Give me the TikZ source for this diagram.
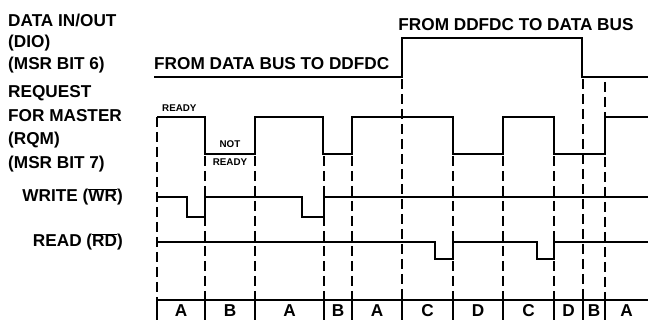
\documentclass[tikz,border=0pt]{standalone}
\usepackage{fontspec}
\setmainfont{Liberation Sans}
\usetikzlibrary{positioning}

\begin{document}
\begin{tikzpicture}[
x=1pt, y=-1pt,
sig/.style={line width=2pt, line join=miter},
guide/.style={line width=1.3pt, dash pattern=on 10pt off 5pt},
lbl/.style={font=\fontsize{17.2}{19}\selectfont\bfseries, inner sep=0pt},
small/.style={font=\fontsize{9.8}{11}\selectfont\bfseries, inner sep=0pt}
]
\useasboundingbox (0,0) rectangle (648,320);

\node[lbl, anchor=base west] (dio1) at (8,26.5) {DATA IN/OUT};
\node[lbl, anchor=base west] (dio2) at (8,48) {(DIO)};
\node[lbl, anchor=base west] (dio3) at (8,70) {(MSR BIT 6)};
\node[lbl, anchor=base west] (rqm1) at (8,98) {REQUEST};
\node[lbl, anchor=base west] (rqm2) at (8,122) {FOR MASTER};
\node[lbl, anchor=base west] (rqm3) at (8,145) {(RQM)};
\node[lbl, anchor=base west] (rqm4) at (8,169) {(MSR BIT 7)};
\node[lbl, anchor=base east] (wr) at (123,202) {WRITE ($\overline{\hbox{WR}}$)};
\node[lbl, anchor=base east] (rd) at (123,247) {READ ($\overline{\hbox{RD}}$)};

\node[lbl, anchor=base west] (tofdc) at (154,70) {FROM DATA BUS TO DDFDC};
\node[lbl, anchor=base] (tobus) at (516,31) {FROM DDFDC TO DATA BUS};
\node[small, anchor=base west] (rdy) at (162,112) {READY};
\node[small, anchor=base] (not) at (230,148) {NOT};
\node[small, anchor=base] (nrdy) at (230,166) {READY};

% DIO
\draw[sig] (154,77) -- (402,77) -- (402,38) -- (582,38) -- (582,77) -- (648,77);
% RQM
\draw[sig] (157,117) -- (205,117) -- (205,154) -- (255,154) -- (255,117) -- (323,117)
  -- (323,154) -- (352,154) -- (352,117) -- (453,117) -- (453,154) -- (503,154)
  -- (503,117) -- (554,117) -- (554,154) -- (605,154) -- (605,117) -- (648,117);
% WR
\draw[sig] (157,197) -- (187,197) -- (187,217) -- (205,217) -- (205,197) -- (302,197)
  -- (302,217) -- (324,217) -- (324,197) -- (648,197);
% RD
\draw[sig] (157,242) -- (435,242) -- (435,259) -- (453,259) -- (453,242) -- (537,242)
  -- (537,259) -- (554,259) -- (554,242) -- (648,242);

\foreach \x/\y in {157/117, 205/156, 255/156, 324/156, 352/156, 402/79, 453/156, 503/156, 554/156, 583/79, 605/82}
  \draw[guide] (\x,\y) -- (\x,300);

\draw[sig] (157,300) -- (648,300);
\foreach \x in {157,205,255,324,352,402,453,503,554,583,605}
  \draw[sig] (\x,300) -- (\x,320);

\foreach \a/\b/\t in {157/205/A, 205/255/B, 255/324/A, 324/352/B, 352/402/A, 402/453/C,
  453/503/D, 503/554/C, 554/583/D, 583/605/B, 605/648/A}
  \node[lbl, anchor=base] at ({(\a+\b)/2},317) {\t};

\end{tikzpicture}
\end{document}
